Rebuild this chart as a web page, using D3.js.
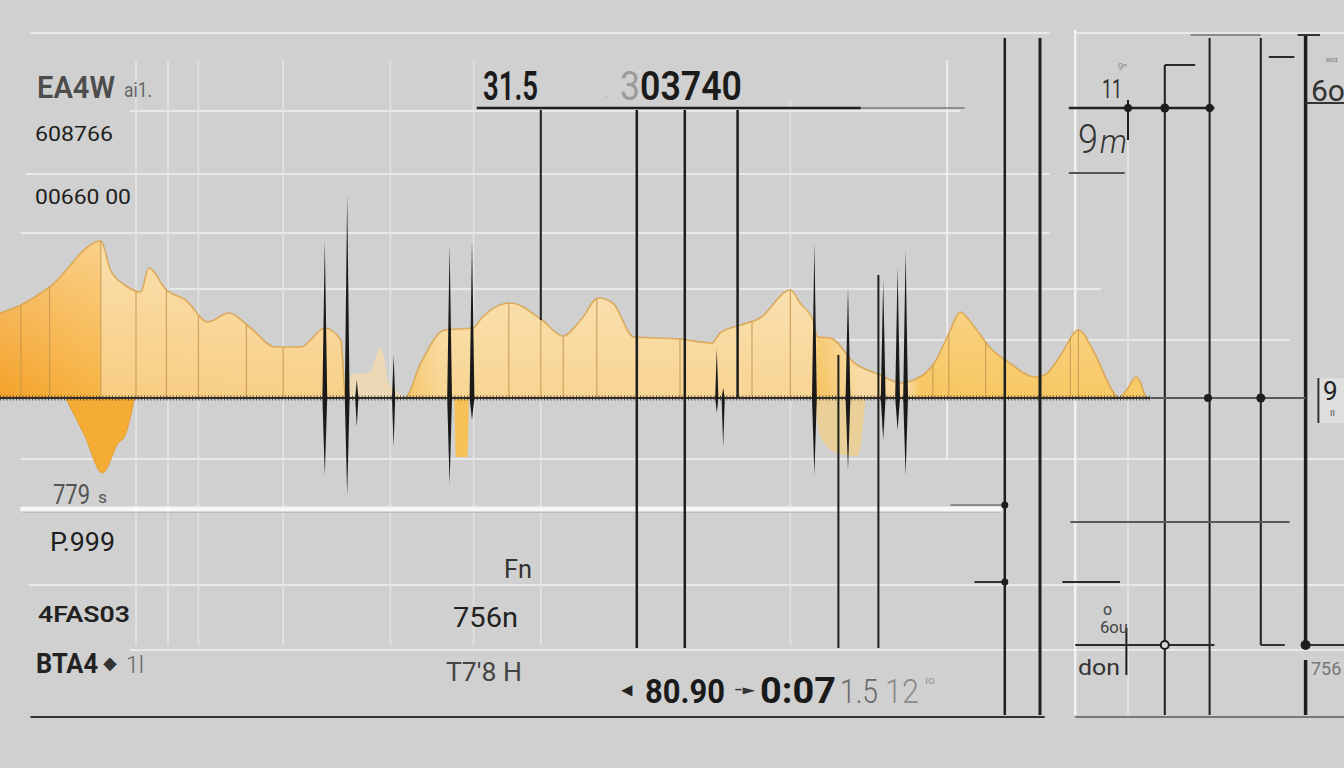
<!DOCTYPE html>
<html><head><meta charset="utf-8">
<script src="https://cdn.jsdelivr.net/npm/d3@7"></script>
<style>html,body{margin:0;padding:0;background:#cfd0cf;overflow:hidden}svg{display:block}</style>
</head><body><svg id="c" width="1344" height="768"></svg>
<script>
// ---------- DATA (time units, amplitude units) ----------
const waveTime = [0,1.3,3.1,6.3,6.9,7.8,8.8,9.3,10.4,11.6,13.0,14.3,15.6,17.2,18.8,20.3,21.3,21.6,25.3,26.3,27.8,29.6,30.0,31.9,33.8,35.2,36.3,37.4,38.3,39.6,42.5,44.5,45.0,46.3,47.5,49.4,50.0,50.8,51.1,51.9,53.4,55.0,56.3,57.1,58.4,59.4,60.0,60.9,61.9,63.1,64.7,65.3,66.3,67.4,68.4,69.5,69.9,70.5,71.0,71.6];
const waveAmp  = [8.5,9.3,11.1,15.7,12.8,11.3,10.6,13.0,10.8,9.8,7.6,8.5,7.1,5.1,5.1,7.0,5.8,0,0,3.5,6.8,7.0,7.8,9.5,7.9,6.2,7.8,10.0,9.5,6.1,5.9,5.5,6.5,7.3,8.0,10.8,9.5,7.8,6.1,6.0,3.5,2.3,1.5,1.8,3.5,6.8,8.6,7.1,5.0,3.5,2.1,2.3,4.3,6.8,4.5,0.8,0,1.0,2.1,0];
const ghostTime = [21.6,21.9,23.1,23.8,24.3,24.7,25.3];
const ghostAmp  = [0,2.3,2.6,5.1,1.5,0.8,0];
const dipATime = [4.1,5.3,6.4,7.4,7.8,8.4];
const dipAAmp  = [0,-3.8,-7.5,-4.5,-3.8,0];
const dipBTime = [28.4,28.5,29.2,29.3];
const dipBAmp  = [0,-5.9,-5.9,0];
const dipCTime = [50.9,51.3,52.5,53.6,54.1];
const dipCAmp  = [0,-4.0,-5.6,-5.8,0];
const stemTime = [1.3,3.1,6.3,8.5,10.4,12.4,15.4,17.7,31.8,33.8,35.2,37.3,42.5,47.0,49.4,58.3,59.3,61.6,66.9,67.4,69.6];
const spikeTime = [20.3,21.7,22.3,24.6,28.1,29.5,44.8,45.2,50.9,53.0,55.2,56.1,56.6];
const spikeHigh = [15.8,20.3,1.8,4.3,15.3,15.8,5.0,1.0,15.5,11.1,11.8,13.0,14.8];
const spikeLow  = [-7.7,-9.7,-2.9,-4.9,-8.7,-2.2,-1.5,-4.9,-7.7,-7.2,-4.2,-3.2,-7.7];
// marker rules: [time, from, to]
const markerRules = [[33.8,28.8,7.8],[39.8,28.8,-25.0],[42.8,28.8,-25.0],[46.1,28.8,0],[52.4,4.3,-25.0],[54.9,12.3,-25.0],
  [62.8,36.0,-31.7],[65.0,36.0,-31.7],[70.5,29.8,25.8],[72.8,33.3,-31.7],[75.6,36.0,-31.7],[78.8,36.0,-24.7],[81.6,36.3,-25.0],[81.6,-26.2,-31.7],[70.4,-23.0,-27.7]];
const markerWidth = [2,2.5,2.5,2.5,2,2,2.5,3,2,2,2,2,3.5,3.5,2];
// level rules: [amp, t0, t1]
const levelRules = [[29.0,29.8,53.8],[29.0,66.8,75.9],[33.3,72.8,74.7],[34.1,79.3,80.9],[29.5,81.6,84],[22.5,66.8,70.3],
  [0,71.9,81.6],[-10.7,59.4,62.8],[-18.4,60.9,62.8],[-18.4,66.4,70.0],[-12.4,66.9,80.6],[-24.7,67.2,75.9],[-24.7,78.8,80.3],[-24.7,81.6,84],
  [-31.9,1.9,65.3],[-31.9,67.2,84],[36.3,74.4,78.8],[36.3,81.1,82.5],[29.0,53.8,60.3]];
const levelColor = ["#1f1f1f","#222","#2a2a2a","#2a2a2a","#333","#555","#5a5a5a","#8a8a8a","#333","#2a2a2a","#5a5a5a","#2a2a2a","#333","#333","#333","#777","#8a8a8a","#333","#8f8f8f"];
// grid: [amp, t0, t1] and [time, a0, a1]
const gridH = [[36.5,1.9,65.6],[36.5,67.2,84],[28.7,8.1,60],[22.4,1.6,65.6],[16.5,1.3,65.6],[10.9,10.6,68.8],[5.8,50,80.6],[-6.1,1.3,84],[-18.7,1.8,84],[-25.2,8.1,84]];
const gridV = [[8.5,33.8,-24.7],[10.5,33.8,-24.7],[12.4,33.8,-24.7],[17.7,33.8,-24.7],[24.4,33.8,-24.7],[29.6,33.8,-24.7],[33.8,7.8,-24.7],[49.4,29.8,-24.7],[59.2,33.8,-6.2],[67.2,36.8,-31.7],[70.5,25.8,-31.7]];
const bandLevel = -11.1, bandStart = 1.4, bandEnd = 62.5;
// dots: [time, amp, radius, open]
const dots = [[70.5,29.0,4,0],[72.8,29.0,4.5,0],[75.6,29.0,4,0],[75.5,0,4,0],[78.8,0,4.5,0],[72.8,-24.7,4,1],[81.6,-24.7,5,0],[62.8,-10.7,3.5,0],[62.8,-18.4,3.5,0]];
// text labels
const labelText = ["EA4W","ai1.","608766","00660 00","779","s","P.999","4FAS03","BTA4","◆","1l","31.5","3","03740","Fn","756n","T7'8 H",
  "◂","80.90","-▸","0:07","1.5","12","ıo","11","9ⁿ","9","m","6o","ʀᴏɪ","9","ıı","o","6ou","don","756","."];

// ---------- LAYOUT ----------
const W = 1344, H = 768;
const svg = d3.select("#c");
const x = d3.scaleLinear().domain([0,84]).range([0,W]);
const y = d3.scaleLinear().domain([-32,36]).range([718,38]);

svg.append("rect").attr("width",W).attr("height",H).attr("fill","#cfd0cf");
const defs = svg.append("defs");
const hg = defs.append("linearGradient").attr("id","hg").attr("gradientUnits","userSpaceOnUse")
  .attr("x1",0).attr("x2",W).attr("y1",0).attr("y2",0);
[[0,"#f4a22a"],[100,"#f7b443"],[101,"#f8cd80"],[340,"#f8d088"],[405,"#f6c466"],[440,"#f8d592"],[815,"#f8d594"],[818,"#f6c35f"],[860,"#f8d9a2"],[910,"#f7d596"],[920,"#f7c660"],[1150,"#f8c966"]]
  .forEach(s=>hg.append("stop").attr("offset",s[0]/W).attr("stop-color",s[1]));
const vg = defs.append("linearGradient").attr("id","vg").attr("gradientUnits","userSpaceOnUse")
  .attr("x1",0).attr("x2",0).attr("y1",y(16)).attr("y2",y(0));
vg.append("stop").attr("offset",0).attr("stop-color","#fff").attr("stop-opacity",0.38);
vg.append("stop").attr("offset",1).attr("stop-color","#fff").attr("stop-opacity",0.0);

// grid
const g0 = svg.append("g");
g0.selectAll("line.gh").data(gridH).join("line").attr("x1",d=>x(d[1])).attr("x2",d=>x(d[2])).attr("y1",d=>y(d[0])).attr("y2",d=>y(d[0]))
  .attr("stroke","#e9e9e8").attr("stroke-width",1.8);
g0.selectAll("line.gv").data(gridV).join("line").attr("x1",d=>x(d[0])).attr("x2",d=>x(d[0])).attr("y1",d=>y(d[1])).attr("y2",d=>y(d[2]))
  .attr("stroke",(d,i)=> i===9||i===8 ? "#f2f2f2" : "#e3e3e2").attr("stroke-width",(d,i)=> i===9?2.5:1.6);
g0.append("line").attr("x1",x(bandStart)).attr("x2",x(bandEnd)).attr("y1",y(bandLevel)+3).attr("y2",y(bandLevel)+3).attr("stroke","#a8a8a8").attr("stroke-width",1.2);
g0.append("line").attr("x1",x(bandStart)).attr("x2",x(bandEnd)).attr("y1",y(bandLevel)).attr("y2",y(bandLevel)).attr("stroke","#f6f6f6").attr("stroke-width",5).attr("stroke-linecap","round");

// areas
const zip = (t,a)=>t.map((d,i)=>[d,a[i]]);
const area = d3.area().x(d=>x(d[0])).y0(y(0)).y1(d=>y(d[1])).curve(d3.curveMonotoneX);
const line = d3.line().x(d=>x(d[0])).y(d=>y(d[1])).curve(d3.curveMonotoneX);
const wave = zip(waveTime,waveAmp);
defs.append("clipPath").attr("id","wc").append("path").attr("d",area(wave));
svg.append("path").attr("d",area(zip(ghostTime,ghostAmp))).attr("fill","#f8dcaa").attr("opacity",0.7);
svg.append("path").attr("d",area(zip(dipATime,dipAAmp))).attr("fill","#f5ac34").attr("stroke","#e59f35").attr("stroke-width",1);
svg.append("path").attr("d",area(zip(dipBTime,dipBAmp))).attr("fill","#f6c256");
svg.append("path").attr("d",area(zip(dipCTime,dipCAmp))).attr("fill","#f3cf86").attr("opacity",0.75);
svg.append("path").attr("d",area(wave)).attr("fill","url(#hg)");
svg.append("path").attr("d",area(wave)).attr("fill","url(#vg)");
svg.append("path").attr("d",line(wave)).attr("fill","none").attr("stroke","#d9a24c").attr("stroke-width",1.6).attr("opacity",0.85);
svg.append("g").attr("clip-path","url(#wc)").selectAll("line").data(stemTime).join("line")
  .attr("x1",d=>x(d)).attr("x2",d=>x(d)).attr("y1",y(0)).attr("y2",y(20)).attr("stroke","#c39550").attr("stroke-width",1.2).attr("opacity",0.8);

// baseline
svg.append("line").attr("x1",x(0)).attr("x2",x(71.9)).attr("y1",y(0)).attr("y2",y(0)).attr("stroke","#2f2b27").attr("stroke-width",2);
svg.append("line").attr("x1",x(0)).attr("x2",x(71.9)).attr("y1",y(0)).attr("y2",y(0)).attr("stroke","#3d3833").attr("stroke-width",5).attr("stroke-dasharray","1 2.2").attr("opacity",0.85);

// spikes
const spikes = spikeTime.map((t,i)=>({t,hi:spikeHigh[i],lo:spikeLow[i]}));
svg.selectAll("path.sp").data(spikes).join("path")
  .attr("d",d=>{const cx=x(d.t), w=(d.hi-d.lo)>15?2.4:1.6; return `M${cx},${y(d.hi)}L${cx+w},${y(0)}L${cx},${y(d.lo)}L${cx-w},${y(0)}Z`;})
  .attr("fill","#1a1a1a");

// rules
svg.selectAll("line.mr").data(markerRules).join("line").attr("x1",d=>x(d[0])).attr("x2",d=>x(d[0])).attr("y1",d=>y(d[1])).attr("y2",d=>y(d[2]))
  .attr("stroke","#1e1e1e").attr("stroke-width",(d,i)=>markerWidth[i]);
svg.selectAll("line.lr").data(levelRules).join("line").attr("x1",d=>x(d[1])).attr("x2",d=>x(d[2])).attr("y1",d=>y(d[0])).attr("y2",d=>y(d[0]))
  .attr("stroke",(d,i)=>levelColor[i]).attr("stroke-width",(d,i)=> i<2?2.5:2);
svg.selectAll("circle.dt").data(dots).join("circle").attr("cx",d=>x(d[0])).attr("cy",d=>y(d[1])).attr("r",d=>d[2])
  .attr("fill",d=>d[3]?"#d8d8d8":"#1e1e1e").attr("stroke","#1e1e1e").attr("stroke-width",d=>d[3]?2:0);

// box on right
svg.append("rect").attr("x",x(82.4)).attr("y",y(2)).attr("width",30).attr("height",45).attr("fill","#dedede").attr("stroke","none");
svg.append("line").attr("x1",x(82.4)).attr("x2",x(82.4)).attr("y1",y(2)).attr("y2",y(-2.5)).attr("stroke","#333").attr("stroke-width",2);

// labels: [x, baseline, size, width, weight, fill]
const labelLayout = [
 [37,98,32,78,600,"#4d4d4d"],[124,97,20,28,400,"#666"],[35,141,21,78,400,"#1e1e1e"],[35,204,21,96,400,"#1e1e1e"],
 [53,504,28,37,400,"#555"],[98,503,16,9,400,"#555"],[50,551,26,65,400,"#1e1e1e"],[38,622,22,92,600,"#222"],
 [36,673,27,62,700,"#222"],[103,669,18,0,400,"#333"],[126,673,24,18,300,"#666"],
 [483,100,40,55,600,"#1b1b1b"],[620,100,40,20,400,"#9a9a9a"],[640,100,40,102,600,"#1b1b1b"],
 [504,578,26,28,400,"#333"],[453,627,27,65,400,"#222"],[446,681,25,76,400,"#444"],
 [622,696,20,0,700,"#222"],[645,703,34,80,700,"#1a1a1a"],[734,694,12,20,700,"#333"],[760,703,36,76,700,"#1a1a1a"],
 [840,703,34,38,300,"#6a6a6a"],[885,703,34,34,300,"#8a8a8a"],[925,684,10,10,400,"#999"],
 [1102,98,25,20,400,"#333"],[1118,70,9,0,400,"#888"],[1078,153,40,20,300,"#333"],[1100,153,34,27,300,"#333"],
 [1311,101,30,0,400,"#333"],[1326,62,8,0,400,"#777"],[1323,400,26,0,400,"#222"],[1330,416,10,0,400,"#555"],
 [1103,615,16,0,400,"#444"],[1100,633,16,28,400,"#444"],[1078,675,22,42,400,"#333"],[1311,675,18,0,400,"#777"],[605,97,12,0,400,"#aaa"]
];
const italic = new Set([27]);
svg.selectAll("text.lb").data(labelText).join("text")
  .attr("x",(d,i)=>labelLayout[i][0]).attr("y",(d,i)=>labelLayout[i][1])
  .attr("font-size",(d,i)=>labelLayout[i][2]).attr("font-weight",(d,i)=>labelLayout[i][4])
  .attr("fill",(d,i)=>labelLayout[i][5]).attr("font-style",(d,i)=>italic.has(i)?"italic":"normal")
  .attr("font-family","'Liberation Sans Narrow','Roboto','Liberation Sans',sans-serif")
  .each(function(d,i){ if(labelLayout[i][3]>0) d3.select(this).attr("textLength",labelLayout[i][3]).attr("lengthAdjust","spacingAndGlyphs"); })
  .text(d=>d);
</script></body></html>
